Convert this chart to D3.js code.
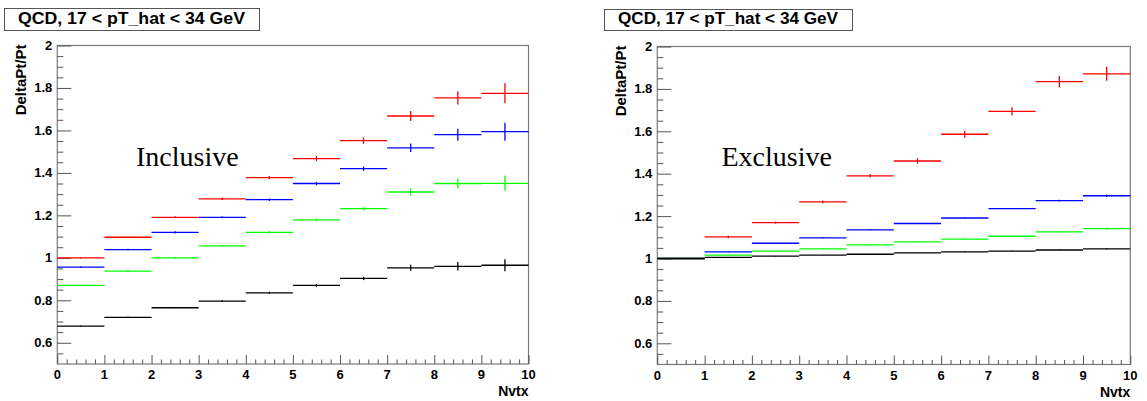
<!DOCTYPE html>
<html>
<head>
<meta charset="utf-8">
<script src="https://cdn.jsdelivr.net/npm/d3@7"></script>
<style>
body { margin: 0; background: #fff; }
text { font-family: "Liberation Sans", Arial, sans-serif; }
</style>
</head>
<body>
<div id="chart"></div>
<script>
// Bins of Nvtx (0..10) and the four curves of each panel.
var bins = [0, 1, 2, 3, 4, 5, 6, 7, 8, 9];
var seriesColors = ["#ff0000", "#0000ff", "#00ff00", "#000000"];
var titleText = "QCD, 17 < pT_hat < 34 GeV";
var yTicks = [0.6, 0.8, 1, 1.2, 1.4, 1.6, 1.8, 2];
var xTicks = [0, 1, 2, 3, 4, 5, 6, 7, 8, 9, 10];

// Inclusive
var incRed   = [1.000, 1.097, 1.191, 1.278, 1.378, 1.467, 1.552, 1.668, 1.753, 1.775];
var incBlue  = [0.956, 1.039, 1.120, 1.191, 1.274, 1.350, 1.420, 1.518, 1.580, 1.594];
var incGreen = [0.870, 0.937, 1.000, 1.056, 1.120, 1.179, 1.232, 1.310, 1.350, 1.351];
var incBlack = [0.678, 0.720, 0.765, 0.796, 0.835, 0.870, 0.903, 0.953, 0.960, 0.965];
var incRedErr   = [0.003, 0.004, 0.005, 0.006, 0.007, 0.012, 0.015, 0.024, 0.031, 0.047];
var incBlueErr  = [0.003, 0.004, 0.005, 0.005, 0.006, 0.008, 0.010, 0.020, 0.028, 0.042];
var incGreenErr = [0.002, 0.003, 0.004, 0.004, 0.005, 0.006, 0.008, 0.018, 0.024, 0.035];
var incBlackErr = [0.002, 0.003, 0.003, 0.004, 0.005, 0.006, 0.008, 0.014, 0.020, 0.028];

// Exclusive
var excRed   = [1.000, 1.102, 1.169, 1.267, 1.390, 1.460, 1.586, 1.694, 1.834, 1.871];
var excBlue  = [1.000, 1.031, 1.072, 1.097, 1.135, 1.165, 1.191, 1.235, 1.273, 1.296];
var excGreen = [1.000, 1.016, 1.035, 1.045, 1.064, 1.078, 1.091, 1.105, 1.126, 1.141];
var excBlack = [1.000, 1.005, 1.011, 1.016, 1.020, 1.027, 1.031, 1.035, 1.040, 1.045];
var excRedErr   = [0.001, 0.006, 0.005, 0.006, 0.008, 0.013, 0.017, 0.019, 0.027, 0.033];
var excBlueErr  = [0.001, 0.001, 0.001, 0.002, 0.002, 0.002, 0.002, 0.003, 0.004, 0.006];
var excGreenErr = [0.001, 0.001, 0.001, 0.001, 0.001, 0.002, 0.002, 0.002, 0.003, 0.004];
var excBlackErr = [0.000, 0.001, 0.001, 0.001, 0.001, 0.001, 0.001, 0.001, 0.001, 0.002];

var width = 1147, height = 401;

var svg = d3.select("#chart").append("svg")
		.attr("width", width)
		.attr("height", height);

function drawPanel(opts) {
	var g = svg.append("g");
	var x = d3.scaleLinear().domain([0, 10]).range([opts.left, opts.right]);
	var y = d3.scaleLinear().domain([0.5, 2]).range([opts.bottom, opts.top]);

	// title box
	g.append("rect")
			.attr("x", opts.box[0] + 0.5)
			.attr("y", opts.box[1] + 0.5)
			.attr("width", opts.box[2] - opts.box[0])
			.attr("height", opts.box[3] - opts.box[1])
			.attr("fill", "#fff")
			.attr("stroke", "#555")
			.attr("stroke-width", 1);
	g.append("text")
			.attr("x", (opts.box[0] + opts.box[2]) / 2)
			.attr("y", opts.box[3] - 6)
			.attr("text-anchor", "middle")
			.attr("font-size", 16)
			.attr("font-weight", "bold")
			.attr("textLength", opts.box[2] - opts.box[0] - 28)
			.attr("lengthAdjust", "spacingAndGlyphs")
			.text(titleText);

	// frame
	g.append("rect")
			.attr("x", opts.left)
			.attr("y", opts.top)
			.attr("width", opts.right - opts.left)
			.attr("height", opts.bottom - opts.top)
			.attr("fill", "none")
			.attr("stroke", "#7a7a7a")
			.attr("stroke-width", 1.2);

	// y axis: major every 0.2, minor every 0.05
	var yAxis = d3.axisRight(y)
			.tickValues(yTicks)
			.tickSize(14)
			.tickFormat("");
	var yMinor = d3.axisRight(y)
			.tickValues(d3.range(0.55, 2.0, 0.05).filter(function(v) {
				return Math.abs(Math.round(v * 5) - v * 5) > 0.01;
			}))
			.tickSize(6)
			.tickFormat("");
	[yAxis, yMinor].forEach(function(ax) {
		var a = g.append("g")
				.attr("transform", "translate(" + opts.left + ",0)")
				.call(ax);
		a.select(".domain").remove();
		a.selectAll("line").attr("stroke", "#555");
	});
	g.selectAll(".ylab")
			.data(yTicks)
			.enter().append("text")
			.attr("class", "ylab")
			.attr("x", opts.left - 5)
			.attr("y", function(d) { return y(d) + 4.5; })
			.attr("text-anchor", "end")
			.attr("font-size", 13)
			.attr("font-weight", "bold")
			.text(function(d) { return d3.format("~g")(d); });

	// x axis: major every 1, minor every 0.2
	var xAxis = d3.axisTop(x).tickValues(xTicks).tickSize(9).tickFormat("");
	var xMinor = d3.axisTop(x)
			.tickValues(d3.range(0.2, 10, 0.2).filter(function(v) {
				return Math.abs(Math.round(v) - v) > 0.01;
			}))
			.tickSize(4.5)
			.tickFormat("");
	[xAxis, xMinor].forEach(function(ax) {
		var a = g.append("g")
				.attr("transform", "translate(0," + opts.bottom + ")")
				.call(ax);
		a.select(".domain").remove();
		a.selectAll("line").attr("stroke", "#555");
	});
	g.selectAll(".xlab")
			.data(xTicks)
			.enter().append("text")
			.attr("class", "xlab")
			.attr("x", function(d) { return x(d); })
			.attr("y", opts.bottom + 15)
			.attr("text-anchor", "middle")
			.attr("font-size", 13)
			.attr("font-weight", "bold")
			.text(function(d) { return d; });

	// axis titles
	g.append("text")
			.attr("x", opts.right)
			.attr("y", opts.bottom + 32)
			.attr("text-anchor", "end")
			.attr("font-size", 14)
			.attr("font-weight", "bold")
			.text("Nvtx");
	g.append("text")
			.attr("transform", "translate(" + (opts.left - 31) + "," + (opts.top - 1) + ") rotate(-90)")
			.attr("text-anchor", "end")
			.attr("font-size", 15)
			.attr("font-weight", "bold")
			.text("DeltaPt/Pt");

	// histograms with error bars
	opts.series.forEach(function(s, i) {
		var sg = g.append("g").attr("stroke", seriesColors[i]).attr("stroke-width", 1.3);
		sg.selectAll(".h")
				.data(bins)
				.enter().append("line")
				.attr("x1", function(b) { return x(b); })
				.attr("x2", function(b) { return x(b + 1); })
				.attr("y1", function(b, j) { return y(s.values[j]); })
				.attr("y2", function(b, j) { return y(s.values[j]); });
		sg.selectAll(".e")
				.data(bins)
				.enter().append("line")
				.attr("x1", function(b) { return x(b + 0.5); })
				.attr("x2", function(b) { return x(b + 0.5); })
				.attr("y1", function(b, j) { return y(s.values[j] - s.errors[j]); })
				.attr("y2", function(b, j) { return y(s.values[j] + s.errors[j]); });
	});

	g.append("text")
			.attr("x", opts.labelX)
			.attr("y", 166)
			.style("font-family", "'Liberation Serif', 'Times New Roman', serif")
			.attr("font-size", 28)
			.text(opts.label);
}

drawPanel({
	left: 57.3, right: 528.5, top: 45.5, bottom: 364,
	box: [4, 8, 259, 30],
	label: "Inclusive", labelX: 136,
	series: [
		{ values: incRed, errors: incRedErr },
		{ values: incBlue, errors: incBlueErr },
		{ values: incGreen, errors: incGreenErr },
		{ values: incBlack, errors: incBlackErr }
	]
});

drawPanel({
	left: 657.3, right: 1130.3, top: 46.5, bottom: 364.5,
	box: [604, 9, 852, 30],
	label: "Exclusive", labelX: 721.5,
	series: [
		{ values: excRed, errors: excRedErr },
		{ values: excBlue, errors: excBlueErr },
		{ values: excGreen, errors: excGreenErr },
		{ values: excBlack, errors: excBlackErr }
	]
});
</script>
</body>
</html>
